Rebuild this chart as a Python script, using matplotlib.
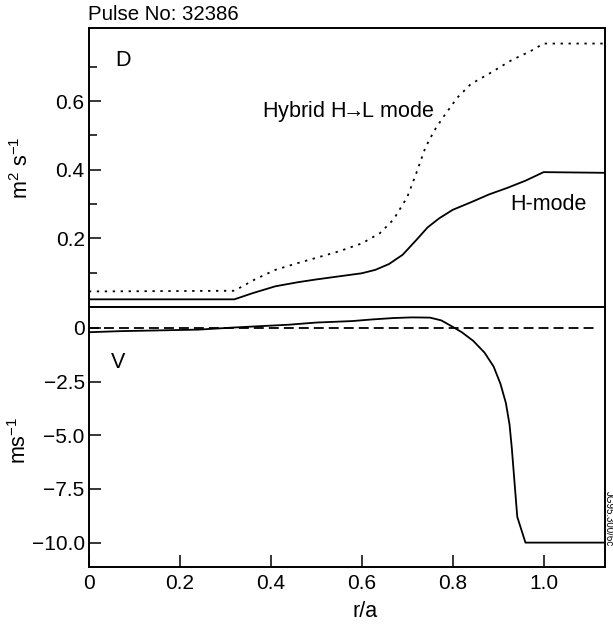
import matplotlib
matplotlib.use('Agg')
import matplotlib.pyplot as plt
from matplotlib.ticker import FixedLocator

plt.rcParams['font.family'] = ['Liberation Sans', 'DejaVu Sans']
plt.rcParams['font.size'] = 15
plt.rcParams['mathtext.fontset'] = 'custom'
plt.rcParams['mathtext.rm'] = 'Liberation Sans'

# D profiles (m^2 s^-1)
r_hybrid = [0, 0.32, 0.365, 0.41, 0.46, 0.50, 0.55, 0.60, 0.64, 0.67, 0.70, 0.72,
            0.74, 0.76, 0.78, 0.81, 0.84, 0.88, 0.93, 0.97, 1.00, 1.135]
d_hybrid = [0.045, 0.047, 0.08, 0.108, 0.128, 0.143, 0.162, 0.185, 0.215, 0.255, 0.32, 0.39,
            0.465, 0.515, 0.555, 0.61, 0.65, 0.68, 0.72, 0.745, 0.768, 0.768]

r_hmode = [0, 0.32, 0.36, 0.41, 0.46, 0.50, 0.55, 0.60, 0.63, 0.66, 0.69, 0.72,
           0.745, 0.77, 0.80, 0.84, 0.88, 0.92, 0.96, 1.00, 1.135]
d_hmode = [0.022, 0.022, 0.04, 0.06, 0.072, 0.08, 0.089, 0.098, 0.108, 0.125, 0.152, 0.195,
           0.232, 0.258, 0.283, 0.305, 0.328, 0.347, 0.368, 0.393, 0.391]

# V profile (m s^-1)
r_v = [0, 0.07, 0.24, 0.32, 0.44, 0.50, 0.58, 0.62, 0.67, 0.71, 0.75, 0.775, 0.80, 0.82,
       0.845, 0.87, 0.89, 0.905, 0.917, 0.925, 0.93, 0.936, 0.942, 0.96, 1.135]
v_hmode = [-0.2, -0.15, -0.08, 0.02, 0.15, 0.25, 0.32, 0.39, 0.46, 0.49, 0.48, 0.35, 0.05, -0.2,
           -0.6, -1.15, -1.8, -2.6, -3.5, -4.5, -5.6, -7.2, -8.8, -10.0, -10.0]
r_zero = [0, 1.12]
v_zero = [0, 0]

x_ticks = [0, 0.2, 0.4, 0.6, 0.8, 1.0]
x_labels = ['0', '0.2', '0.4', '0.6', '0.8', '1.0']
d_ticks = [0.2, 0.4, 0.6]
d_minor = [0.1, 0.3, 0.5, 0.7]
v_ticks = [0, -2.5, -5.0, -7.5, -10.0]
v_labels = ['0', '\u22122.5', '\u22125.0', '\u22127.5', '\u221210.0']

fig = plt.figure(figsize=(6.13, 6.25), dpi=100)
ax1 = fig.add_axes([0.145, 0.509, 0.842, 0.446])
ax2 = fig.add_axes([0.145, 0.093, 0.842, 0.416])

lw = 1.3
ax1.plot(r_hybrid, d_hybrid, color='black', lw=lw, linestyle=(0, (1.3, 3.1)))
ax1.plot(r_hmode, d_hmode, color='black', lw=lw)
ax1.set_xlim(0, 1.135)
ax1.set_ylim(0, 0.813)
ax1.yaxis.set_major_locator(FixedLocator(d_ticks))
ax1.yaxis.set_minor_locator(FixedLocator(d_minor))
ax1.set_yticklabels(['0.2', '0.4', '0.6'])
ax1.tick_params(axis='x', bottom=False, labelbottom=False)
ax1.tick_params(axis='y', which='major', direction='in', length=8.5, width=1.1, pad=3)
ax1.tick_params(axis='y', which='minor', direction='in', length=6, width=1.1)
ax1.text(0.075, 0.72, 'D', ha='center', va='center', fontsize=15.5)
ax1.text(0.57, 0.57, 'Hybrid H$\\!\\!\\rightarrow\\!\\!$L mode', ha='center', va='center',
         fontsize=15.5)
ax1.text(1.01, 0.30, 'H-mode', ha='center', va='center', fontsize=15.5)

ax2.plot(r_zero, v_zero, color='black', lw=lw, linestyle=(0, (5.5, 2.8)))
ax2.plot(r_v, v_hmode, color='black', lw=lw)
ax2.set_xlim(0, 1.135)
ax2.set_ylim(-11.13, 0.98)
ax2.set_xticks(x_ticks)
ax2.set_xticklabels(x_labels)
ax2.set_yticks(v_ticks)
ax2.set_yticklabels(v_labels)
ax2.tick_params(axis='x', direction='in', length=9, width=1.1, pad=5)
ax2.tick_params(axis='y', direction='in', length=8.5, width=1.1, pad=3)
ax2.text(0.065, -1.6, 'V', ha='center', va='center', fontsize=15.5)
ax2.set_xlabel('r/a', fontsize=15.5)
ax2.xaxis.set_label_coords(0.535, -0.13)

for ax in (ax1, ax2):
    for s in ax.spines.values():
        s.set_linewidth(1.4)

fig.text(88 / 613, 1 - 14 / 625, 'Pulse No: 32386', ha='left', va='center', fontsize=14.7)
fig.text(22 / 613, 1 - 168 / 625, 'm$^2$ s$^{-1}$', rotation=90, ha='center', va='center', fontsize=15.5)
fig.text(20 / 613, 1 - 440 / 625, 'ms$^{-1}$', rotation=90, ha='center', va='center', fontsize=15.5)
fig.text(0.993, 0.17, 'JG95.300/6c', rotation=270, ha='center', va='center', fontsize=7)

fig.savefig('out.png', dpi=100)
